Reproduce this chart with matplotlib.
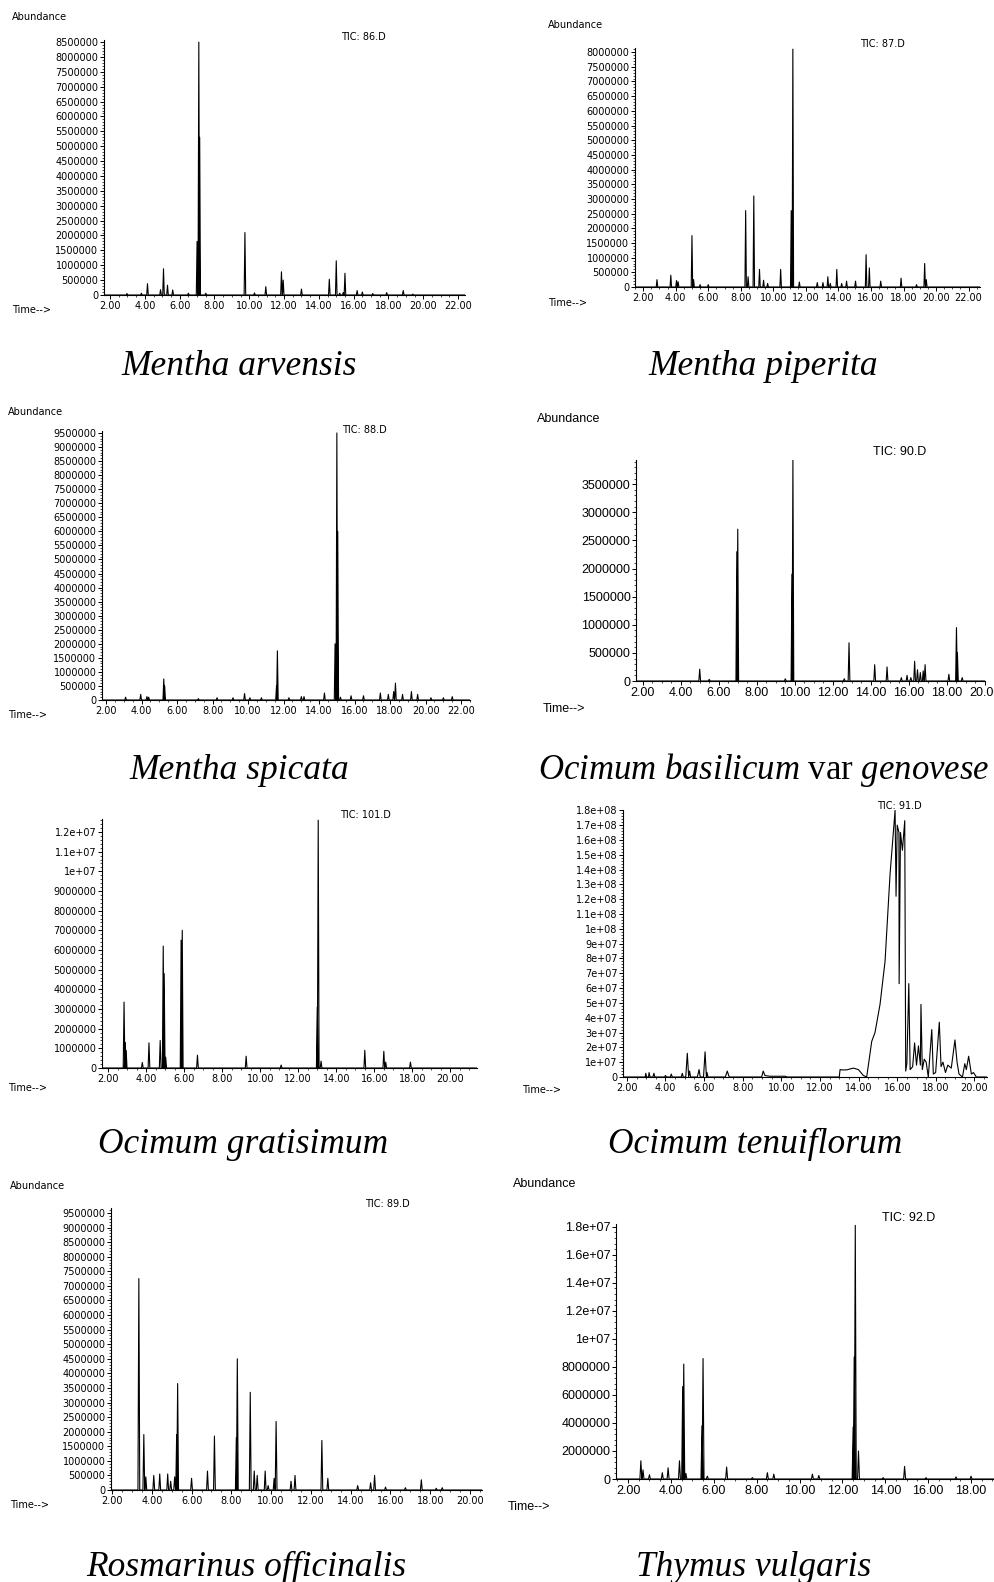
import numpy as np
import matplotlib
matplotlib.use('Agg')
import matplotlib.pyplot as plt
from matplotlib.ticker import MultipleLocator, AutoMinorLocator, FuncFormatter

# ---- peak tables (retention time in min, abundance) ----
arv_rt = [2.97, 3.8, 4.15, 4.9, 5.07, 5.3, 5.6, 6.5, 7.0, 7.1, 7.15, 7.5, 9.75, 10.3, 10.95,
          11.85, 11.95, 13.0, 14.6, 15.0, 15.2, 15.4, 15.5, 16.2, 16.5, 17.1, 17.9, 18.85, 19.4]
arv_h = [50e3, 60e3, 380e3, 180e3, 880e3, 330e3, 170e3, 60e3, 1.8e6, 8.5e6, 5.3e6, 60e3, 2.1e6, 70e3, 280e3,
         780e3, 500e3, 200e3, 530e3, 1.15e6, 60e3, 80e3, 730e3, 150e3, 100e3, 50e3, 80e3, 150e3, 30e3]

pip_rt = [2.85, 3.7, 4.05, 4.15, 5.0, 5.1, 5.5, 6.0, 8.3, 8.45, 8.8, 9.15, 9.4, 9.65, 10.45, 11.1, 11.2,
          11.6, 12.7, 13.05, 13.35, 13.5, 13.9, 14.2, 14.5, 15.05, 15.7, 15.9, 16.6, 17.85, 18.8, 19.3, 19.4]
pip_h = [250e3, 400e3, 220e3, 180e3, 1.75e6, 250e3, 80e3, 80e3, 2.6e6, 350e3, 3.1e6, 600e3, 230e3, 120e3,
         600e3, 2.6e6, 8.1e6, 170e3, 150e3, 150e3, 350e3, 120e3, 600e3, 120e3, 200e3, 200e3, 1.1e6, 650e3,
         200e3, 300e3, 80e3, 800e3, 250e3]

spi_rt = [3.1, 3.95, 4.3, 4.4, 5.25, 5.3, 7.2, 8.25, 9.15, 9.8, 10.1, 10.75, 11.6, 11.65, 12.3, 13.0, 13.15,
          14.3, 14.9, 15.0, 15.05, 15.2, 15.8, 16.5, 17.45, 17.9, 18.2, 18.3, 18.7, 19.2, 19.55, 20.3, 21.0, 21.5]
spi_h = [100e3, 200e3, 120e3, 100e3, 750e3, 500e3, 50e3, 80e3, 80e3, 230e3, 80e3, 80e3, 500e3, 1.75e6,
         80e3, 120e3, 120e3, 250e3, 2.0e6, 9.5e6, 6.0e6, 100e3, 150e3, 150e3, 250e3, 200e3, 300e3, 600e3,
         200e3, 300e3, 200e3, 80e3, 80e3, 120e3]

bas_rt = [5.0, 5.5, 6.95, 7.0, 9.5, 9.85, 9.9, 12.6, 12.85, 14.2, 14.85, 15.6, 15.9, 16.1, 16.3, 16.45,
          16.6, 16.75, 16.85, 18.1, 18.5, 18.55, 18.8]
bas_h = [210e3, 30e3, 2.3e6, 2.7e6, 40e3, 1.9e6, 3.93e6, 40e3, 680e3, 290e3, 250e3, 60e3, 100e3, 60e3,
         350e3, 200e3, 150e3, 180e3, 290e3, 120e3, 950e3, 500e3, 60e3]

gra_rt = [2.84, 2.9, 2.95, 3.8, 4.15, 4.74, 4.9, 4.95, 5.03, 5.84, 5.9, 6.7, 9.26, 11.1, 13.0, 13.05, 13.2,
          15.5, 16.5, 16.6, 17.9]
gra_h = [3.35e6, 1.3e6, 900e3, 280e3, 1.28e6, 1.4e6, 6.2e6, 4.8e6, 550e3, 6.5e6, 7.0e6, 650e3, 600e3,
         150e3, 3.1e6, 12.6e6, 350e3, 900e3, 850e3, 300e3, 300e3]

# Ocimum tenuiflorum trace, point by point
ten_t = [1.8, 2.95, 2.98, 3.02, 3.12, 3.15, 3.2, 3.35, 3.4, 3.45, 3.95, 4.0, 4.05, 4.25, 4.3, 4.35, 4.82,
         4.87, 4.92, 5.05, 5.13, 5.2, 5.25, 5.3, 5.65, 5.74, 5.8, 5.97, 6.05, 6.12, 6.15, 6.2, 7.1, 7.2,
         7.3, 8.98, 9.06, 9.15, 9.4, 10.2, 10.3, 13.0, 13.04, 13.12, 13.38, 13.73, 13.99, 14.25, 14.42,
         14.68, 14.85, 15.11, 15.37, 15.63, 15.89, 15.94, 16.0, 16.09, 16.1, 16.17, 16.27, 16.39, 16.44,
         16.5, 16.6, 16.67, 16.8, 16.9, 17.0, 17.1, 17.2, 17.23, 17.3, 17.4, 17.5, 17.61, 17.79, 17.87,
         17.99, 18.18, 18.27, 18.37, 18.5, 18.62, 18.8, 18.99, 19.1, 19.2, 19.38, 19.5, 19.58, 19.7,
         19.84, 19.95, 20.1, 20.65]
ten_v = [0, 0, 2.5e6, 0, 0, 3e6, 0, 0, 2.5e6, 0, 0, 1e6, 0, 0, 2e6, 0, 0,
         2.5e6, 0, 0, 1.6e7, 0, 4e6, 0, 0, 5e6, 0, 0, 1.7e7, 0, 3e6, 0, 0, 4e6,
         0, 0, 4e6, 1e6, 5e5, 5e5, 0, 0, 5e6, 4.8e6, 4.8e6, 6e6, 5e6, 1e6, 0,
         2.4e7, 3.0e7, 4.9e7, 7.8e7, 1.37e8, 1.8e8, 1.22e8, 1.7e8, 1.65e8, 6.3e7, 1.65e8, 1.53e8, 1.73e8, 4e6,
         9e6, 6.3e7, 5e6, 7e6, 2.3e7, 8e6, 2.1e7, 8e6, 4.9e7, 5e6, 1.2e7, 1.0e7, 0, 3.2e7, 2e6,
         3e6, 3.7e7, 7e6, 1.0e7, 3e6, 8e6, 6e6, 2.5e7, 1.0e7, 2e6, 0, 9e6, 5e6, 1.4e7,
         2e6, 3e6, 0, 0]

ros_rt = [3.35, 3.6, 3.7, 4.1, 4.4, 4.8, 4.95, 5.15, 5.25, 5.3, 6.0, 6.8, 7.15, 8.25, 8.3, 8.95, 9.15,
          9.3, 9.7, 9.85, 10.15, 10.25, 11.0, 11.2, 12.55, 12.85, 14.35, 15.0, 15.2, 15.75, 16.75, 17.55,
          18.3, 18.6]
ros_h = [7.25e6, 1.9e6, 450e3, 500e3, 550e3, 550e3, 300e3, 450e3, 1.9e6, 3.65e6, 400e3, 650e3, 1.85e6,
         1.8e6, 4.5e6, 3.35e6, 650e3, 500e3, 650e3, 150e3, 400e3, 2.35e6, 300e3, 500e3, 1.7e6, 400e3,
         150e3, 250e3, 500e3, 100e3, 80e3, 350e3, 60e3, 80e3]

thy_rt = [2.6, 2.7, 3.0, 3.6, 3.87, 4.4, 4.55, 4.6, 4.7, 5.45, 5.5, 5.7, 6.6, 7.8, 8.5, 8.8, 10.6, 10.9,
          12.5, 12.55, 12.6, 12.75, 13.9, 14.9, 15.9, 17.3, 18.0]
thy_h = [1.3e6, 650e3, 300e3, 450e3, 800e3, 1.3e6, 6.6e6, 8.2e6, 400e3, 3.8e6, 8.6e6, 200e3, 850e3, 100e3,
         450e3, 350e3, 350e3, 250e3, 3.7e6, 8.7e6, 18.1e6, 2.0e6, 100e3, 900e3, 100e3, 150e3, 200e3]

species = ['Mentha arvensis', 'Mentha piperita', 'Mentha spicata', None,
           'Ocimum gratisimum', 'Ocimum tenuiflorum', 'Rosmarinus officinalis', 'Thymus vulgaris']
tic_names = ['TIC: 86.D', 'TIC: 87.D', 'TIC: 88.D', 'TIC: 90.D',
             'TIC: 101.D', 'TIC: 91.D', 'TIC: 89.D', 'TIC: 92.D']

W, H = 995, 1582
fig = plt.figure(figsize=(W / 100, H / 100), dpi=100)
plt.rcParams['mathtext.fontset'] = 'custom'
plt.rcParams['mathtext.it'] = 'Liberation Serif:italic'
plt.rcParams['mathtext.rm'] = 'Liberation Serif'


def peaks_trace(rt, h, x0, x1, w=0.045):
    xs, ys = [x0], [0]
    for t, v in sorted(zip(rt, h)):
        xs += [t - w, t, t + w]
        ys += [0, v, 0]
    xs.append(x1)
    ys.append(0)
    return xs, ys


def ylab(v, pos):
    if v < 1e7:
        return '%d' % v
    return '%g' % v


def panel(box, xlim, ymax, ystep, tic, tic_xy, abund_xy, time_xy, big=False):
    l, t, r, b = box
    ax = fig.add_axes([l / W, 1 - b / H, (r - l) / W, (b - t) / H])
    ax.set_xlim(*xlim)
    ax.set_ylim(0, ymax)
    for s in ['top', 'right']:
        ax.spines[s].set_visible(False)
    for s in ['left', 'bottom']:
        ax.spines[s].set_linewidth(0.8)
    fs = 9 if big else 7
    fam = 'Liberation Sans' if big else 'DejaVu Sans'
    ax.xaxis.set_major_locator(MultipleLocator(2))
    ax.xaxis.set_minor_locator(AutoMinorLocator(4))
    ax.yaxis.set_major_locator(MultipleLocator(ystep))
    ax.yaxis.set_minor_locator(AutoMinorLocator(5))
    ax.xaxis.set_major_formatter(FuncFormatter(lambda v, p: '%.2f' % v))
    ax.yaxis.set_major_formatter(FuncFormatter(ylab))
    ax.tick_params(which='major', length=3, width=0.7, pad=1, labelsize=fs)
    ax.tick_params(which='minor', length=1.5, width=0.5)
    for lab in ax.get_xticklabels() + ax.get_yticklabels():
        lab.set_family(fam)

    def put(txt, xy):
        if xy is not None:
            fig.text(xy[0] / W, 1 - xy[1] / H, txt, fontsize=fs, family=fam, va='center')
    put('Abundance', abund_xy)
    put(tic, tic_xy)
    put('Time-->', time_xy)
    return ax


# Mentha arvensis
ax = panel((104, 40, 465, 295), (1.65, 22.4), 8.57e6, 5e5, tic_names[0], (341, 37), (12, 17), (12, 310))
ax.plot(*peaks_trace(arv_rt, arv_h, 1.65, 22.4), color='black', lw=0.8)

# Mentha piperita
ax = panel((635, 48, 980, 287), (1.5, 22.7), 8.14e6, 5e5, tic_names[1], (860, 44), (548, 25), (548, 303))
ax.plot(*peaks_trace(pip_rt, pip_h, 1.5, 22.7), color='black', lw=0.8)

# Mentha spicata
ax = panel((102, 431, 470, 700), (1.77, 22.5), 9.57e6, 5e5, tic_names[2], (342, 430), (8, 412), (8, 715))
ax.plot(*peaks_trace(spi_rt, spi_h, 1.77, 22.5), color='black', lw=0.8)

# Ocimum basilicum
ax = panel((636, 460, 985, 681), (1.65, 20.0), 3.93e6, 5e5, tic_names[3], (873, 452), (537, 419), (543, 709), big=True)
ax.plot(*peaks_trace(bas_rt, bas_h, 1.65, 20.0), color='black', lw=0.8)

# Ocimum gratisimum
ax = panel((102, 819, 477, 1068), (1.68, 21.4), 12.66e6, 1e6, tic_names[4], (340, 815), None, (8, 1088))
ax.plot(*peaks_trace(gra_rt, gra_h, 1.68, 21.4), color='black', lw=0.8)

# Ocimum tenuiflorum
ax = panel((623, 810, 987, 1077), (1.8, 20.65), 1.802e8, 1e7, tic_names[5], (877, 806), None, (522, 1090))
ax.plot(ten_t, ten_v, color='black', lw=0.8)

# Rosmarinus officinalis
ax = panel((111, 1208, 482, 1490), (1.95, 20.6), 9.67e6, 5e5, tic_names[6], (365, 1204), (10, 1186), (10, 1505))
ax.plot(*peaks_trace(ros_rt, ros_h, 1.95, 20.6), color='black', lw=0.8)

# Thymus vulgaris
ax = panel((616, 1224, 1000, 1479), (1.44, 19.35), 1.82e7, 2e6, tic_names[7], (882, 1218), (513, 1184), (508, 1507), big=True)
ax.plot(*peaks_trace(thy_rt, thy_h, 1.44, 19.35), color='black', lw=0.8)

# captions
cap_kw = dict(fontsize=25.5, family='Liberation Serif', style='italic', ha='center', va='baseline')
caps = [(239, 375), (763, 375), (239, 779), None, (243, 1153), (755, 1153), (246, 1576), (754, 1576)]
for name, pos in zip(species, caps):
    if name is not None:
        fig.text(pos[0] / W, 1 - pos[1] / H, name, **cap_kw)
fig.text(764 / W, 1 - 779 / H, r'$\mathit{Ocimum\ basilicum}$ var $\mathit{genovese}$',
         fontsize=25, family='Liberation Serif', ha='center', va='baseline')

fig.savefig('out.png', dpi=100)
